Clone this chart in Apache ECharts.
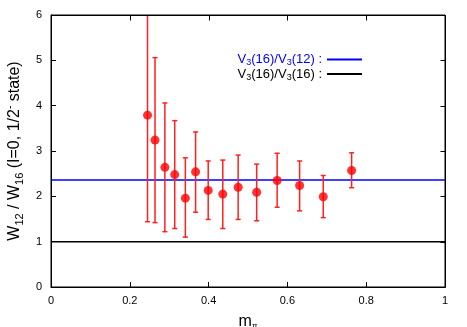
<!DOCTYPE html>
<html><head><meta charset="utf-8">
<script src="https://cdn.jsdelivr.net/npm/echarts@6/dist/echarts.min.js"></script>
<style>html,body{margin:0;padding:0;background:#fff}#c{width:467px;height:327px}</style>
</head><body><div id="c"></div>
<script>
const mpi = [0.245,0.264,0.289,0.314,0.341,0.367,0.399,0.436,0.475,0.522,0.574,0.631,0.691,0.763];
const ratio = [3.79,3.24,2.64,2.48,1.96,2.54,2.13,2.05,2.20,2.09,2.35,2.24,1.99,2.57];
const errLow = [1.44,1.42,1.22,1.29,1.10,1.65,1.49,1.29,1.49,1.46,1.76,1.68,1.53,2.19];
const errHigh = [6.0,5.06,4.06,3.67,2.85,3.42,2.78,2.80,2.91,2.71,2.95,2.78,2.46,2.96];
const ratio12 = 2.36;
const ratio16 = 1.0;
const xTicks = [0,0.2,0.4,0.6,0.8,1];
const yTicks = [0,1,2,3,4,5,6];

const FONT = 'Liberation Sans';
const FRAME = '#000';
const chart = echarts.init(document.getElementById('c'));
const pts = mpi.map((x,i)=>[x, ratio[i]]);
const bars = mpi.map((x,i)=>[x, errLow[i], errHigh[i]]);
const sub = {fontFamily:FONT, fontSize:9, padding:[7,0,0,0]};
const xMin = xTicks[0], xMax = xTicks[xTicks.length-1];
const yMin = yTicks[0], yMax = yTicks[yTicks.length-1];
const tickStyle = {show:true, inside:true, length:5, lineStyle:{color:FRAME, width:1}};
chart.setOption({
  animation:false,
  grid:{left:51, right:22, top:15, bottom:40, outerBoundsMode:'none', containLabel:false,
    show:true, borderColor:FRAME, borderWidth:1, backgroundColor:'transparent'},
  legend:{
    orient:'vertical', right:100, top:48, align:'right', itemGap:0,
    itemWidth:35, itemHeight:2, icon:'rect',
    data:[{name:'V3(16)/V3(12)'},{name:'V3(16)/V3(16)'}],
    formatter: n => n==='V3(16)/V3(12)'
      ? '{b|V}{bs|3}{b|(16)/V}{bs|3}{b|(12) :}'
      : '{k|V}{ks|3}{k|(16)/V}{ks|3}{k|(16) :}',
    textStyle:{fontFamily:FONT, fontSize:13, rich:{
      b:{fontFamily:FONT,fontSize:13,color:'#0000ff'},
      bs:Object.assign({color:'#0000ff'},sub),
      k:{fontFamily:FONT,fontSize:13,color:'#000'},
      ks:Object.assign({color:'#000'},sub)
    }}
  },
  xAxis:{type:'value', min:xMin, max:xMax, interval:0.2,
    axisLine:{show:true, onZero:false, lineStyle:{color:FRAME}},
    axisTick:tickStyle,
    splitLine:{show:false},
    name:'{m|m}{p|π}', nameLocation:'middle', nameGap:27,
    nameTextStyle:{rich:{m:{fontFamily:FONT,fontSize:16,color:'#000'},p:{fontFamily:FONT,fontSize:8,color:'#000',padding:[8,0,0,0]}}},
    axisLabel:{fontFamily:FONT, fontSize:11, color:'#000', margin:8,
      formatter:v=>{const t=xTicks.find(q=>Math.abs(q-v)<1e-9);return t===undefined?'':String(t);}}
  },
  yAxis:{type:'value', min:yMin, max:yMax, interval:1,
    axisLine:{show:true, onZero:false, lineStyle:{color:FRAME}},
    axisTick:tickStyle,
    splitLine:{show:false},
    name:'{n|W}{s|12}{n| / W}{s|16}{n| (I=0, 1/2}{u|-}{n| state)}', nameLocation:'middle', nameGap:26, nameRotate:90,
    nameTextStyle:{rich:{
      n:{fontFamily:FONT,fontSize:16,color:'#000'},
      s:{fontFamily:FONT,fontSize:11,color:'#000',padding:[9,0,0,0]},
      u:{fontFamily:FONT,fontSize:10,color:'#000',padding:[0,0,9,0]}
    }},
    axisLabel:{fontFamily:FONT, fontSize:11, color:'#000', margin:9,
      formatter:v=>{const t=yTicks.find(q=>Math.abs(q-v)<1e-9);return t===undefined?'':String(t);}}
  },
  series:[
    {name:'V3(16)/V3(12)', type:'line', data:[[xMin,ratio12],[xMax,ratio12]], symbol:'none',
      lineStyle:{color:'#0000ff', width:1.5}, itemStyle:{color:'#0000ff'}, z:2},
    {name:'V3(16)/V3(16)', type:'line', data:[[xMin,ratio16],[xMax,ratio16]], symbol:'none',
      lineStyle:{color:'#000', width:1.5}, itemStyle:{color:'#000'}, z:2},
    {type:'custom', data:bars, clip:true, z:3,
      renderItem:(params, api)=>{
        const x=api.value(0), lo=api.value(1), hi=api.value(2);
        const a=api.coord([x,hi]), b=api.coord([x,lo]);
        const w=2.5, st={stroke:'#ff2020', lineWidth:1.5};
        return {type:'group', children:[
          {type:'line', shape:{x1:a[0],y1:a[1],x2:b[0],y2:b[1]}, style:st},
          {type:'line', shape:{x1:a[0]-w,y1:a[1],x2:a[0]+w,y2:a[1]}, style:st},
          {type:'line', shape:{x1:b[0]-w,y1:b[1],x2:b[0]+w,y2:b[1]}, style:st}
        ]};
      }},
    {type:'scatter', data:pts, symbol:'circle', symbolSize:9, itemStyle:{color:'#ff0000'}, z:4}
  ]
});
// mirrored frame and ticks on top and right, placed through the chart's own scales
const tl = chart.convertToPixel({gridIndex:0}, [xMin, yMax]);
const br = chart.convertToPixel({gridIndex:0}, [xMax, yMin]);
const s = v => Math.round(v) + 0.5;
const T = s(tl[1]), R = s(br[0]);
const els = [
  {type:'line', shape:{x1:s(tl[0]), y1:T, x2:R, y2:T}, style:{stroke:FRAME, lineWidth:1}, z:100},
  {type:'line', shape:{x1:R, y1:T, x2:R, y2:s(br[1])}, style:{stroke:FRAME, lineWidth:1}, z:100}
];
xTicks.forEach(t=>{const x=s(chart.convertToPixel({gridIndex:0},[t,yMax])[0]);
  els.push({type:'line', shape:{x1:x,y1:T,x2:x,y2:T+5}, style:{stroke:FRAME, lineWidth:1}, z:100});});
yTicks.forEach(t=>{const y=s(chart.convertToPixel({gridIndex:0},[xMax,t])[1]);
  els.push({type:'line', shape:{x1:R-5,y1:y,x2:R,y2:y}, style:{stroke:FRAME, lineWidth:1}, z:100});});
chart.setOption({graphic:{elements:els}});
</script></body></html>
